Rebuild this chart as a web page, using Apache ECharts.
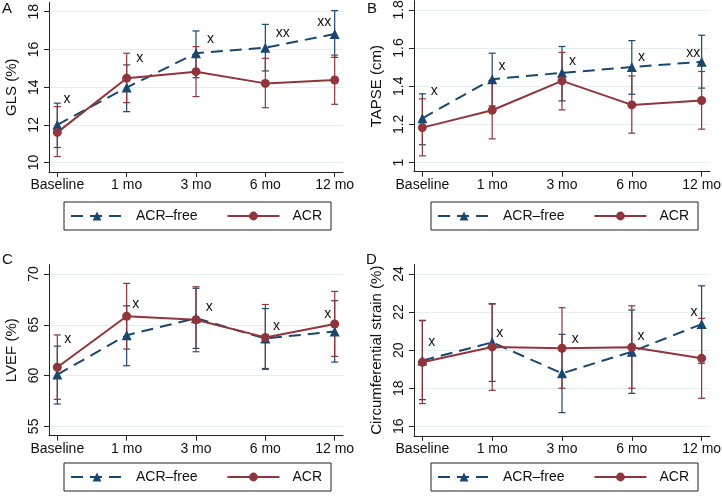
<!DOCTYPE html>
<html>
<head>
<meta charset="utf-8">
<script src="https://cdn.jsdelivr.net/npm/echarts@6/dist/echarts.min.js"></script>
<style>
  html, body { margin: 0; padding: 0; background: #fff; }
  #chart { width: 722px; height: 496px; }
</style>
</head>
<body>
<div id="chart"></div>
<script>
var CATS = ['Baseline', '1 mo', '3 mo', '6 mo', '12 mo'];
var CAT_POS = [0, 1, 2, 3, 4];

// A: GLS
var GLS_FREE = [12.0, 13.98, 15.8, 16.09, 16.82];
var GLS_FREE_LO = [10.8, 12.7, 14.5, 14.86, 15.58];
var GLS_FREE_HI = [13.15, 15.18, 16.98, 17.33, 18.06];
var GLS_ACR = [11.6, 14.47, 14.82, 14.2, 14.38];
var GLS_ACR_LO = [10.32, 13.18, 13.5, 12.91, 13.09];
var GLS_ACR_HI = [12.97, 15.8, 16.15, 15.53, 15.7];
var GLS_TICKS = [10, 12, 14, 16, 18];
var GLS_MARK = ['x', 'x', 'x', 'xx', 'xx'];
var GLS_MARK_X = [0.14, 1.19, 2.21, 3.25, 3.85];
var GLS_MARK_Y = [13.37, 15.53, 16.52, 16.86, 17.46];

// B: TAPSE
var TAPSE_FREE = [1.232, 1.437, 1.47, 1.5, 1.528];
var TAPSE_FREE_LO = [1.093, 1.297, 1.323, 1.358, 1.39];
var TAPSE_FREE_HI = [1.36, 1.573, 1.608, 1.639, 1.667];
var TAPSE_ACR = [1.183, 1.274, 1.428, 1.302, 1.325];
var TAPSE_ACR_LO = [1.035, 1.124, 1.276, 1.154, 1.175];
var TAPSE_ACR_HI = [1.334, 1.42, 1.577, 1.454, 1.477];
var TAPSE_TICKS = [1, 1.2, 1.4, 1.6, 1.8];
var TAPSE_MARK = ['x', 'x', 'x', 'x', 'xx'];
var TAPSE_MARK_X = [0.17, 1.14, 2.15, 3.14, 3.88];
var TAPSE_MARK_Y = [1.372, 1.503, 1.53, 1.55, 1.573];

// C: LVEF
var LVEF_FREE = [60.1, 63.98, 65.65, 63.65, 64.35];
var LVEF_FREE_LO = [57.2, 60.97, 62.68, 60.7, 61.33];
var LVEF_FREE_HI = [62.9, 66.87, 68.6, 66.6, 67.37];
var LVEF_ACR = [60.82, 65.84, 65.5, 63.76, 65.08];
var LVEF_ACR_LO = [57.66, 62.61, 62.35, 60.61, 61.89];
var LVEF_ACR_HI = [64.0, 69.08, 68.75, 67.0, 68.29];
var LVEF_TICKS = [55, 60, 65, 70];
var LVEF_MARK = ['x', 'x', 'x', 'x', 'x'];
var LVEF_MARK_X = [0.15, 1.13, 2.19, 3.16, 3.9];
var LVEF_MARK_Y = [63.55, 67.06, 66.72, 64.9, 66.06];

// D: circumferential strain
var CS_FREE = [19.45, 20.41, 18.78, 19.92, 21.37];
var CS_FREE_LO = [17.4, 18.36, 16.72, 17.73, 19.31];
var CS_FREE_HI = [21.55, 22.44, 20.83, 22.11, 23.38];
var CS_ACR = [19.36, 20.17, 20.1, 20.15, 19.57];
var CS_ACR_LO = [17.19, 17.89, 18.0, 18.0, 17.47];
var CS_ACR_HI = [21.57, 22.42, 22.23, 22.33, 21.67];
var CS_TICKS = [16, 18, 20, 22, 24];
var CS_MARK = ['x', 'x', 'x', 'x', 'x'];
var CS_MARK_X = [0.135, 1.11, 2.19, 3.13, 3.89];
var CS_MARK_Y = [20.41, 20.9, 20.59, 20.76, 22.02];

(function () {
  var FONT = '"Liberation Sans", Arial, sans-serif';
  var NAVY = '#1a476f';
  var MAROON = '#90353b';
  var INK = '#111';
  var GRIDLINE = '#e6eef0';

  var PANELS = [
    { letter: 'A', title: 'GLS (%)', ticks: GLS_TICKS,
      free: [GLS_FREE, GLS_FREE_LO, GLS_FREE_HI], acr: [GLS_ACR, GLS_ACR_LO, GLS_ACR_HI],
      mark: [GLS_MARK, GLS_MARK_X, GLS_MARK_Y],
      yMin: 9.5, yMax: 18.5,
      grid: { left: 49, top: 2.3, width: 294, height: 169.7 }, legend: { left: 64, top: 202 }, letterPos: [2, 1] },
    { letter: 'B', title: 'TAPSE (cm)', ticks: TAPSE_TICKS,
      free: [TAPSE_FREE, TAPSE_FREE_LO, TAPSE_FREE_HI], acr: [TAPSE_ACR, TAPSE_ACR_LO, TAPSE_ACR_HI],
      mark: [TAPSE_MARK, TAPSE_MARK_X, TAPSE_MARK_Y],
      yMin: 0.952, yMax: 1.848,
      grid: { left: 414, top: 0.7, width: 296, height: 171 }, legend: { left: 431, top: 202 }, letterPos: [367, 1] },
    { letter: 'C', title: 'LVEF (%)', ticks: LVEF_TICKS,
      free: [LVEF_FREE, LVEF_FREE_LO, LVEF_FREE_HI], acr: [LVEF_ACR, LVEF_ACR_LO, LVEF_ACR_HI],
      mark: [LVEF_MARK, LVEF_MARK_X, LVEF_MARK_Y],
      yMin: 54.08, yMax: 70.92,
      grid: { left: 49, top: 264.7, width: 294, height: 171 }, legend: { left: 64, top: 463 }, letterPos: [2, 252] },
    { letter: 'D', title: 'Circumferential strain (%)', ticks: CS_TICKS,
      free: [CS_FREE, CS_FREE_LO, CS_FREE_HI], acr: [CS_ACR, CS_ACR_LO, CS_ACR_HI],
      mark: [CS_MARK, CS_MARK_X, CS_MARK_Y],
      yMin: 15.5, yMax: 24.5,
      grid: { left: 414, top: 264.5, width: 296, height: 171.3 }, legend: { left: 431, top: 463 }, letterPos: [366, 252] }
  ];

  function capBar(params, api) {
    var x = api.value(0);
    var lo = api.coord([x, api.value(1)]);
    var hi = api.coord([x, api.value(2)]);
    var w = 3.5;
    var style = { stroke: api.visual('color'), lineWidth: 1.2 };
    return {
      type: 'group',
      children: [
        { type: 'line', shape: { x1: lo[0], y1: lo[1], x2: hi[0], y2: hi[1] }, style: style },
        { type: 'line', shape: { x1: lo[0] - w, y1: lo[1], x2: lo[0] + w, y2: lo[1] }, style: style },
        { type: 'line', shape: { x1: hi[0] - w, y1: hi[1], x2: hi[0] + w, y2: hi[1] }, style: style }
      ]
    };
  }

  function errSeries(i, trio, color) {
    return {
      type: 'custom',
      name: 'ci' + i + color,
      xAxisIndex: i,
      yAxisIndex: i,
      itemStyle: { color: color },
      encode: { x: 0, y: [1, 2] },
      renderItem: capBar,
      data: CAT_POS.map(function (k) { return [k, trio[1][k], trio[2][k]]; }),
      z: 2
    };
  }

  function lineSeries(i, name, values, color, symbol, size, dash) {
    return {
      type: 'line',
      name: name,
      xAxisIndex: i,
      yAxisIndex: i,
      symbol: symbol,
      symbolSize: size,
      showSymbol: true,
      lineStyle: { color: color, width: 2, type: dash },
      itemStyle: { color: color },
      data: CAT_POS.map(function (k) { return [k, values[k]]; }),
      z: 3
    };
  }

  function markSeries(i, mark) {
    var labels = mark[0];
    return {
      type: 'custom',
      name: 'mark' + i,
      xAxisIndex: i,
      yAxisIndex: i,
      encode: { x: 0, y: 1 },
      renderItem: function (params, api) {
        var pt = api.coord([api.value(0), api.value(1)]);
        return {
          type: 'text',
          x: pt[0],
          y: pt[1],
          style: {
            text: labels[params.dataIndex],
            fill: INK,
            font: '14px ' + FONT,
            align: 'center',
            verticalAlign: 'middle'
          }
        };
      },
      data: labels.map(function (_t, k) { return [mark[1][k], mark[2][k]]; }),
      z: 4
    };
  }

  function buildOption() {
    var grids = [], xAxes = [], yAxes = [], legends = [], series = [], texts = [];

    PANELS.forEach(function (p, i) {
      grids.push({
        left: p.grid.left, top: p.grid.top, width: p.grid.width, height: p.grid.height,
        containLabel: false, outerBoundsMode: 'none'
      });

      xAxes.push({
        type: 'value',
        gridIndex: i,
        min: -0.12,
        max: 4.12,
        splitLine: { show: false },
        axisLine: { show: true, onZero: false, lineStyle: { color: '#222', width: 1 } },
        axisTick: { show: true, length: 5, customValues: CAT_POS, lineStyle: { color: '#222' } },
        axisLabel: {
          customValues: CAT_POS,
          formatter: function (v) { return CATS[Math.round(v)]; },
          margin: 6,
          fontFamily: FONT,
          fontSize: 14,
          color: INK
        }
      });

      yAxes.push({
        type: 'value',
        gridIndex: i,
        min: p.yMin,
        max: p.yMax,
        name: p.title,
        nameLocation: 'middle',
        nameGap: 30,
        nameTextStyle: { fontFamily: FONT, fontSize: 15, color: INK },
        axisLine: { show: true, onZero: false, lineStyle: { color: '#222', width: 1 } },
        axisTick: { show: true, length: 5, customValues: p.ticks, lineStyle: { color: '#222' } },
        axisLabel: {
          customValues: p.ticks,
          rotate: 90,
          margin: 8,
          fontFamily: FONT,
          fontSize: 14,
          color: INK
        },
        splitLine: { show: true, lineStyle: { color: GRIDLINE, width: 1 } }
      });

      legends.push({
        data: ['ACR–free', 'ACR'],
        left: p.legend.left,
        top: p.legend.top,
        orient: 'horizontal',
        selectedMode: false,
        itemWidth: 52,
        itemHeight: 11,
        itemGap: 29,
        padding: [6, 9, 6, 6],
        borderColor: '#222',
        borderWidth: 1,
        backgroundColor: '#fff',
        textStyle: { fontFamily: FONT, fontSize: 14, color: INK, lineHeight: 16, padding: [0, 0, 0, 8] }
      });

      series.push(errSeries(i, p.free, NAVY));
      series.push(errSeries(i, p.acr, MAROON));
      series.push(lineSeries(i, 'ACR–free', p.free[0], NAVY, 'triangle', 10, [12, 7]));
      series.push(lineSeries(i, 'ACR', p.acr[0], MAROON, 'circle', 9, 'solid'));
      series.push(markSeries(i, p.mark));

      texts.push({
        type: 'text',
        left: p.letterPos[0],
        top: p.letterPos[1],
        style: { text: p.letter, font: '15px ' + FONT, fill: INK }
      });
    });

    return {
      backgroundColor: '#fff',
      animation: false,
      grid: grids,
      xAxis: xAxes,
      yAxis: yAxes,
      legend: legends,
      series: series,
      graphic: texts
    };
  }

  var chart = echarts.init(document.getElementById('chart'), null, { renderer: 'canvas' });
  chart.setOption(buildOption());
})();
</script>
</body>
</html>
